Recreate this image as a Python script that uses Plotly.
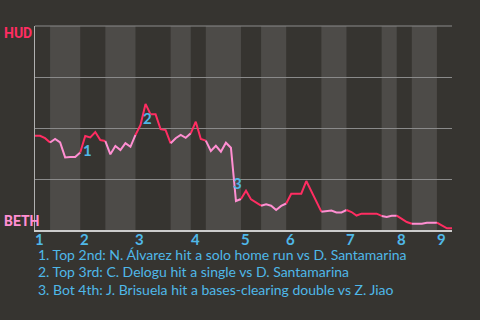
import plotly.graph_objects as go

# Win probability for HUD (1 = HUD wins, 0 = BETH wins), one value per game event
hud_win_prob = [
    0.462, 0.462, 0.450, 0.429, 0.446, 0.429, 0.356, 0.358, 0.358, 0.380,
    0.461, 0.454, 0.480, 0.441, 0.436, 0.371, 0.412, 0.392, 0.426, 0.408,
    0.466, 0.515, 0.618, 0.567, 0.567, 0.494, 0.490, 0.425, 0.450, 0.466,
    0.452, 0.474, 0.531, 0.446, 0.438, 0.387, 0.413, 0.384, 0.428, 0.403,
    0.142, 0.152, 0.193, 0.150, 0.136, 0.119, 0.126, 0.119, 0.098, 0.118,
    0.130, 0.178, 0.178, 0.178, 0.240, 0.188, 0.139, 0.090, 0.093, 0.095,
    0.086, 0.086, 0.098, 0.088, 0.071, 0.080, 0.080, 0.080, 0.080, 0.069,
    0.064, 0.070, 0.070, 0.054, 0.039, 0.031, 0.031, 0.031, 0.036, 0.036,
    0.036, 0.020, 0.008, 0.008,
]
# Event index at which each half-inning ends (top 1st, bot 1st, top 2nd, ...)
half_inning_ends = [3, 9, 14, 20, 27, 31, 34, 41, 45, 50, 57, 62, 69, 72, 75, 80, 83]
inning_labels = ["1", "2", "3", "4", "5", "6", "7", "8", "9"]

# Key plays: (label, event index)
key_play_labels = ["1", "2", "3"]
key_play_events = [10, 22, 40]
key_play_notes = [
    "1. Top 2nd: N. Álvarez hit a solo home run vs D. Santamarina",
    "2. Top 3rd: C. Delogu hit a single vs D. Santamarina",
    "3. Bot 4th: J. Brisuela hit a bases-clearing double vs Z. Jiao",
]
team_top = "HUD"
team_bottom = "BETH"

BG = "#363430"
STRIPE = "#4d4b48"
RED = "#ff2d62"
PINK = "#ff8fd2"
BLUE = "#4fb8e8"
FONT = "Lato"

fig = go.Figure()

starts = [0] + half_inning_ends[:-1]
for i, (s, e) in enumerate(zip(starts, half_inning_ends)):
    xs = list(range(s, e + 1))
    ys = hud_win_prob[s:e + 1]
    fig.add_trace(go.Scatter(
        x=xs, y=ys, mode="lines",
        line=dict(color=RED if i % 2 == 0 else PINK, width=2),
        hoverinfo="skip", showlegend=False,
    ))
    if i % 2 == 1:
        fig.add_shape(type="rect", xref="x", yref="paper", x0=s, x1=e, y0=0, y1=1,
                      fillcolor=STRIPE, line_width=0, layer="below")

# top border line and left axis line
fig.add_shape(type="line", xref="paper", yref="paper", x0=0, x1=1, y0=1, y1=1,
              line=dict(color="#8a8a8a", width=1), layer="below")

# inning labels at start of each top half
for lab, s in zip(inning_labels, starts[0::2]):
    fig.add_annotation(x=s, y=0, xref="x", yref="paper", text=lab, showarrow=False,
                       xanchor="left", yanchor="top", yshift=2, xshift=-2,
                       font=dict(family=FONT, size=15, color=BLUE, weight="bold"))

for lab, k in zip(key_play_labels, key_play_events):
    up = hud_win_prob[k] > hud_win_prob[k - 1]
    fig.add_annotation(x=k, y=hud_win_prob[k], xref="x", yref="y", text=lab, showarrow=False,
                       xanchor="center", yanchor="middle", xshift=2, yshift=-14 if up else 18,
                       font=dict(family=FONT, size=15, color=BLUE, weight="bold"))

for j, note in enumerate(key_play_notes):
    fig.add_annotation(x=0, y=0, xref="paper", yref="paper", text=note, showarrow=False,
                       xanchor="left", yanchor="middle", xshift=1, yshift=-24 - 17.5 * j,
                       font=dict(family=FONT, size=14, color=BLUE))

fig.add_annotation(x=0, y=1, xref="paper", yref="paper", text=team_top, showarrow=False,
                   xanchor="left", yanchor="middle", xshift=-33, yshift=-7,
                   font=dict(family="Roboto", size=14, color=RED, weight="bold"))
fig.add_annotation(x=0, y=0, xref="paper", yref="paper", text=team_bottom, showarrow=False,
                   xanchor="left", yanchor="middle", xshift=-33, yshift=9,
                   font=dict(family="Roboto", size=14, color=PINK, weight="bold"))

fig.update_layout(
    width=480, height=320,
    margin=dict(l=35, r=28, t=26, b=90),
    paper_bgcolor=BG, plot_bgcolor=BG,
    xaxis=dict(range=[0, 83], showgrid=False, zeroline=False, showticklabels=False,
               showline=True, linecolor="#cccccc", linewidth=2, ticks=""),
    yaxis=dict(range=[0, 1], tickvals=[0, 0.25, 0.5, 0.75, 1], showticklabels=False,
               gridcolor="#8a8a8a", gridwidth=1, zeroline=False,
               showline=True, linecolor="#b0b0b0", linewidth=1, ticks=""),
)

fig.write_html("out.html")
